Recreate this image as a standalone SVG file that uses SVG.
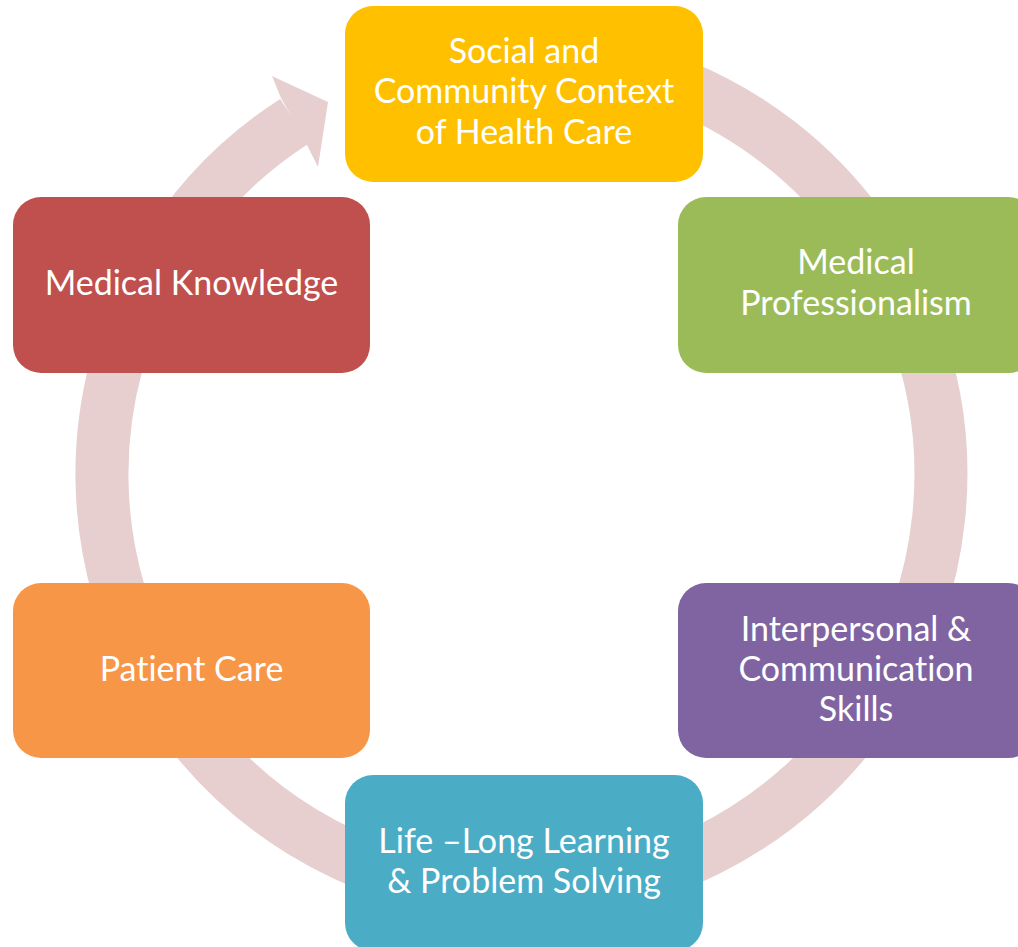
<svg xmlns="http://www.w3.org/2000/svg" width="1018" height="947" viewBox="0 0 1018 947">
<style>
.box{stroke:none}
.lbl{font-family:Lato,"Open Sans","Liberation Sans",sans-serif;font-size:34px;fill:#FFFFFF;text-anchor:middle;font-variant-ligatures:none}
.ring{fill:none;stroke:#E7CFD0;stroke-width:53}
</style>
<rect width="1018" height="947" fill="#FFFFFF"/>
<g id="connectors">
<path class="ring" d="M 379.4 79.3 A 419.5 419.5 0 1 1 294.5 121.2"/>
<polygon fill="#E7CFD0" points="281,98 272,76 328,102 318,167 308,147"/>
</g>
<g id="node-social">
<rect class="box" x="345" y="6" width="358" height="176" rx="28" fill="#FFC000"/>
<text class="lbl" x="524" y="63">Social and</text>
<text class="lbl" x="524" y="103">Community Context</text>
<text class="lbl" x="524" y="144">of Health Care</text>
</g>
<g id="node-professionalism">
<rect class="box" x="678" y="197" width="358" height="176" rx="28" fill="#9BBB59"/>
<text class="lbl" x="856" y="274">Medical</text>
<text class="lbl" x="856" y="315">Professionalism</text>
</g>
<g id="node-interpersonal">
<rect class="box" x="678" y="583" width="358" height="175" rx="28" fill="#8064A2"/>
<text class="lbl" x="856" y="641">Interpersonal &amp;</text>
<text class="lbl" x="856" y="681">Communication</text>
<text class="lbl" x="856" y="721">Skills</text>
</g>
<g id="node-lifelong">
<rect class="box" x="345" y="775" width="358" height="176" rx="28" fill="#4BACC6"/>
<text class="lbl" x="524" y="853">Life –Long Learning</text>
<text class="lbl" x="524" y="893">&amp; Problem Solving</text>
</g>
<g id="node-patient">
<rect class="box" x="13" y="583" width="357" height="175" rx="28" fill="#F79646"/>
<text class="lbl" x="191.5" y="681">Patient Care</text>
</g>
<g id="node-knowledge">
<rect class="box" x="13" y="197" width="357" height="176" rx="28" fill="#C0504D"/>
<text class="lbl" x="191.5" y="295">Medical Knowledge</text>
</g>
</svg>
